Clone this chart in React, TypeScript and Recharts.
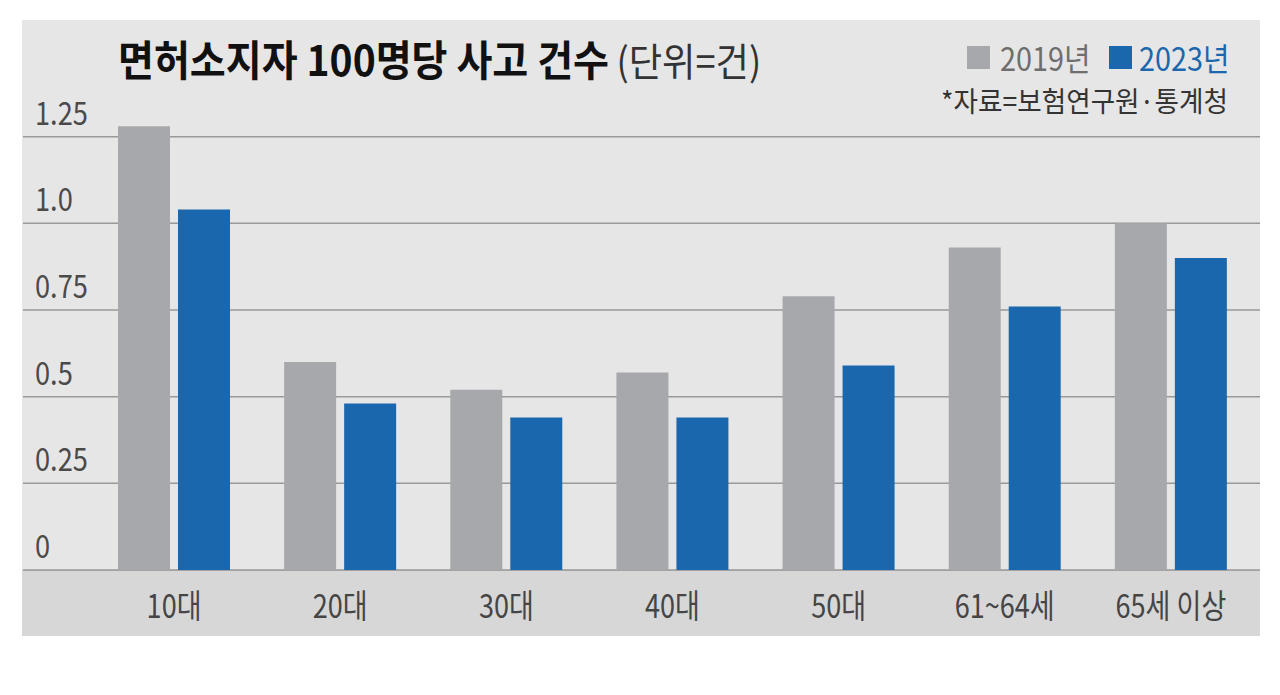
import React from 'react'
import { BarChart, Bar, XAxis, YAxis, CartesianGrid } from 'recharts'

const categories = ['10대', '20대', '30대', '40대', '50대', '61~64세', '65세 이상']
const values2019 = [1.28, 0.6, 0.52, 0.57, 0.79, 0.93, 1.0]
const values2023 = [1.04, 0.48, 0.44, 0.44, 0.59, 0.76, 0.9]
const yTicks = [0, 0.25, 0.5, 0.75, 1, 1.25]
const yTickLabels = ['0', '0.25', '0.5', '0.75', '1.0', '1.25']
const seriesNames = ['2019년', '2023년']

const GRAY = '#a6a8ab'
const BLUE = '#1b67ae'
const FONT = '"Noto Sans CJK KR", "Noto Sans", sans-serif'

const chartData = categories.map((name, i) => ({
  name,
  y2019: values2019[i],
  y2023: values2023[i]
}))

// condensed text like the print font
const YTick = (props: any) => {
  const { y, payload } = props
  const idx = yTicks.indexOf(payload.value)
  return (
    <text
      transform={`translate(13, ${y - 12}) scale(0.85, 1)`}
      fontSize={32}
      fill="#4a4a4a"
      fontFamily={FONT}
      textAnchor="start"
    >
      {yTickLabels[idx]}
    </text>
  )
}

const XTick = (props: any) => {
  const { x, y, payload } = props
  return (
    <text
      transform={`translate(${x}, ${y + 48}) scale(0.82, 1)`}
      fontSize={33}
      fill="#454545"
      fontFamily={FONT}
      textAnchor="middle"
    >
      {payload.value}
    </text>
  )
}

const legendText = { fontSize: 32, display: 'inline-block', transform: 'scaleX(0.9)', transformOrigin: 'left' } as const

const ChartLegend = () => (
  <>
    <div style={{ position: 'absolute', right: 21, top: 19, fontFamily: FONT, display: 'flex', alignItems: 'center', height: 36 }}>
      <span style={{ width: 23, height: 23, background: GRAY, display: 'inline-block', marginRight: 10 }} />
      <span style={{ ...legendText, color: '#6e6e6e' }}>{seriesNames[0]}</span>
      <span style={{ width: 23, height: 23, background: BLUE, display: 'inline-block', marginLeft: 8, marginRight: 7 }} />
      <span style={{ ...legendText, color: BLUE }}>{seriesNames[1]}</span>
    </div>
    <div style={{ position: 'absolute', right: 32, top: 60, fontFamily: FONT, fontSize: 28, color: '#333', whiteSpace: 'nowrap', transform: 'scaleX(0.95)', transformOrigin: 'right' }}>
      *자료=보험연구원·통계청
    </div>
  </>
)

export default function App() {
  return (
    <div style={{ position: 'absolute', left: 22, top: 20, width: 1238, height: 616, background: '#e6e6e7' }}>
      <div style={{ position: 'absolute', left: 0, bottom: 0, width: 1238, height: 66, background: '#d7d7d8' }} />
      <div
        style={{
          position: 'absolute',
          left: 96,
          top: 7,
          fontFamily: FONT,
          whiteSpace: 'nowrap',
          transform: 'scaleX(0.93)',
          transformOrigin: 'left'
        }}
      >
        <span style={{ fontSize: 42, fontWeight: 700, color: '#111' }}>면허소지자 100명당 사고 건수</span>
        <span style={{ fontSize: 39, color: '#333', marginLeft: 8 }}>(단위=건)</span>
      </div>
      <ChartLegend />
      <div style={{ position: 'absolute', left: 0, top: 0 }}>
        <BarChart
          width={1238}
          height={616}
          data={chartData}
          margin={{ top: 30, right: 0, bottom: 0, left: 0 }}
          barSize={52}
          barGap={8}
        >
          <XAxis
            dataKey="name"
            height={66}
            padding={{ left: 68, right: 6 }}
            tickLine={false}
            axisLine={false}
            tickSize={0}
            tickMargin={0}
            tick={<XTick />}
            interval={0}
          />
          <YAxis
            width={1}
            domain={[0, 1.5]}
            ticks={yTicks}
            interval={0}
            tickLine={false}
            axisLine={false}
            tick={<YTick />}
          />
          <Bar dataKey="y2019" name={seriesNames[0]} fill={GRAY} isAnimationActive={false} />
          <Bar dataKey="y2023" name={seriesNames[1]} fill={BLUE} isAnimationActive={false} />
          <CartesianGrid vertical={false} syncWithTicks stroke="rgba(60,60,60,0.45)" strokeWidth={1.5} />
        </BarChart>
      </div>
    </div>
  )
}
